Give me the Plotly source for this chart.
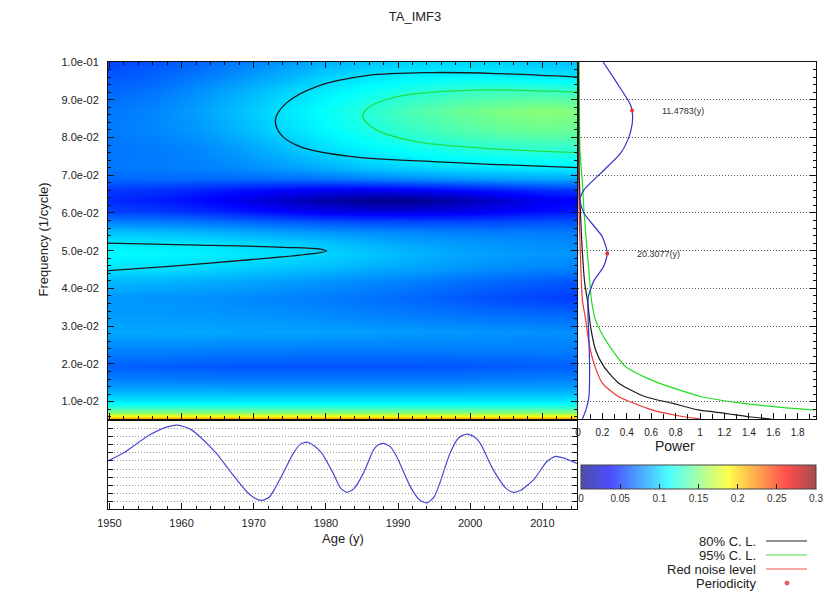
import plotly.graph_objects as go

# ---------------- data ----------------
title_text = "TA_IMF3"

# wavelet power grid (rows = frequency, cols = year)
grid_years = [1950, 1956, 1962, 1968, 1974, 1980, 1986, 1992, 1998, 2004, 2010, 2015]
grid_freqs = [0.0050, 0.0056, 0.0062, 0.0072, 0.0085, 0.0100, 0.0130, 0.0160, 0.0195,
              0.0240, 0.0285, 0.0330, 0.0375, 0.0420, 0.0455, 0.0490, 0.0520, 0.0550,
              0.0580, 0.0605, 0.0635, 0.0660, 0.0690, 0.0720, 0.0770, 0.0820, 0.0870,
              0.0920, 0.0965, 0.1000]
power_grid = [
    [0.240, 0.240, 0.240, 0.240, 0.240, 0.240, 0.240, 0.240, 0.240, 0.240, 0.240, 0.240],
    [0.210, 0.210, 0.210, 0.210, 0.210, 0.210, 0.210, 0.210, 0.210, 0.210, 0.210, 0.210],
    [0.185, 0.185, 0.185, 0.185, 0.185, 0.185, 0.185, 0.185, 0.185, 0.185, 0.185, 0.185],
    [0.150, 0.150, 0.150, 0.150, 0.150, 0.150, 0.150, 0.150, 0.150, 0.150, 0.150, 0.150],
    [0.125, 0.125, 0.125, 0.125, 0.125, 0.125, 0.125, 0.125, 0.125, 0.125, 0.125, 0.125],
    [0.108, 0.108, 0.108, 0.108, 0.108, 0.108, 0.108, 0.108, 0.108, 0.108, 0.108, 0.108],
    [0.088, 0.088, 0.088, 0.087, 0.087, 0.087, 0.087, 0.087, 0.087, 0.088, 0.088, 0.088],
    [0.075, 0.074, 0.073, 0.073, 0.073, 0.073, 0.073, 0.073, 0.073, 0.074, 0.075, 0.075],
    [0.066, 0.065, 0.064, 0.063, 0.062, 0.062, 0.062, 0.062, 0.063, 0.064, 0.065, 0.066],
    [0.077, 0.077, 0.076, 0.075, 0.075, 0.074, 0.074, 0.074, 0.074, 0.075, 0.075, 0.075],
    [0.087, 0.087, 0.087, 0.086, 0.086, 0.085, 0.084, 0.083, 0.082, 0.081, 0.080, 0.080],
    [0.083, 0.083, 0.082, 0.081, 0.080, 0.078, 0.076, 0.074, 0.072, 0.070, 0.069, 0.068],
    [0.082, 0.081, 0.080, 0.078, 0.076, 0.074, 0.071, 0.068, 0.064, 0.060, 0.057, 0.055],
    [0.092, 0.091, 0.089, 0.087, 0.084, 0.081, 0.078, 0.075, 0.071, 0.068, 0.065, 0.063],
    [0.105, 0.104, 0.102, 0.099, 0.096, 0.093, 0.089, 0.086, 0.082, 0.079, 0.077, 0.076],
    [0.112, 0.111, 0.109, 0.106, 0.103, 0.100, 0.096, 0.091, 0.087, 0.084, 0.082, 0.081],
    [0.107, 0.106, 0.105, 0.102, 0.099, 0.095, 0.090, 0.086, 0.083, 0.081, 0.079, 0.078],
    [0.094, 0.093, 0.091, 0.088, 0.085, 0.082, 0.079, 0.077, 0.075, 0.074, 0.074, 0.074],
    [0.074, 0.073, 0.071, 0.067, 0.063, 0.060, 0.058, 0.057, 0.057, 0.058, 0.060, 0.061],
    [0.056, 0.054, 0.050, 0.044, 0.037, 0.031, 0.027, 0.027, 0.030, 0.035, 0.040, 0.044],
    [0.050, 0.046, 0.040, 0.031, 0.021, 0.011, 0.004, 0.004, 0.012, 0.023, 0.033, 0.037],
    [0.054, 0.052, 0.048, 0.043, 0.038, 0.034, 0.033, 0.035, 0.040, 0.045, 0.050, 0.053],
    [0.068, 0.068, 0.068, 0.068, 0.069, 0.071, 0.074, 0.078, 0.081, 0.084, 0.086, 0.087],
    [0.073, 0.074, 0.075, 0.078, 0.083, 0.089, 0.096, 0.100, 0.103, 0.105, 0.107, 0.107],
    [0.072, 0.074, 0.077, 0.084, 0.093, 0.103, 0.110, 0.116, 0.121, 0.124, 0.126, 0.126],
    [0.074, 0.077, 0.082, 0.091, 0.102, 0.111, 0.120, 0.129, 0.136, 0.141, 0.144, 0.143],
    [0.073, 0.077, 0.084, 0.094, 0.105, 0.114, 0.125, 0.135, 0.143, 0.149, 0.153, 0.151],
    [0.068, 0.072, 0.080, 0.089, 0.099, 0.108, 0.116, 0.123, 0.128, 0.131, 0.131, 0.129],
    [0.062, 0.066, 0.072, 0.080, 0.089, 0.098, 0.104, 0.108, 0.109, 0.108, 0.105, 0.103],
    [0.058, 0.062, 0.067, 0.074, 0.082, 0.090, 0.096, 0.100, 0.101, 0.100, 0.097, 0.095],
]

# significance contours (year, frequency)
c80_upper_years = [2014.8, 2004.2, 1994.9, 1985.6, 1978.7, 1974.5, 1973.0, 1973.8, 1976.4, 1983.3, 1994.9, 2004.2, 2014.8]
c80_upper_freqs = [0.0960, 0.0969, 0.0972, 0.0964, 0.0935, 0.0891, 0.0847, 0.0807, 0.0776, 0.0750, 0.0736, 0.0728, 0.0720]
c95_years = [2014.8, 1999.4, 1990.1, 1985.8, 1985.1, 1987.0, 1992.5, 2001.8, 2014.8]
c95_freqs = [0.0920, 0.0925, 0.0909, 0.0878, 0.0856, 0.0820, 0.0789, 0.0772, 0.0760]
c80_lower_years = [1949.8, 1962.5, 1974.1, 1979.2, 1980.1, 1978.2, 1969.4, 1957.9, 1949.8]
c80_lower_freqs = [0.0520, 0.0515, 0.0509, 0.0504, 0.0499, 0.0492, 0.0476, 0.0458, 0.0447]

# reconstructed component time series
ts_years = [1949.8, 1952.0, 1953.2, 1955.6, 1957.9, 1959.5, 1961.2, 1962.5, 1964.8, 1967.1,
            1969.0, 1970.1, 1971.1, 1972.2, 1973.6, 1975.5, 1976.4, 1977.3, 1978.3, 1979.4,
            1981.0, 1982.0, 1982.9, 1983.9, 1985.2, 1986.6, 1987.2, 1988.0, 1988.9, 1989.8,
            1991.7, 1993.0, 1994.0, 1995.0, 1995.8, 1997.2, 1998.4, 1999.5, 2000.5, 2001.4,
            2003.2, 2005.0, 2006.0, 2007.0, 2008.8, 2010.6, 2011.8, 2013.0, 2014.8]
ts_values = [0.10, 0.30, 0.45, 0.74, 0.93, 0.98, 0.88, 0.70, 0.29, -0.24,
             -0.65, -0.81, -0.87, -0.78, -0.36, 0.29, 0.50, 0.56, 0.48, 0.30,
             -0.20, -0.56, -0.67, -0.58, -0.20, 0.37, 0.49, 0.53, 0.45, 0.21,
             -0.53, -0.86, -0.93, -0.78, -0.44, 0.29, 0.67, 0.76, 0.70, 0.53,
             -0.12, -0.58, -0.67, -0.62, -0.36, 0.08, 0.21, 0.17, 0.04]

# global wavelet power and confidence levels (frequency, power)
gws_freqs = [0.1000, 0.0944, 0.0890, 0.0872, 0.0834, 0.0795, 0.0758, 0.0705, 0.0661, 0.0635,
             0.0599, 0.0537, 0.0493, 0.0458, 0.0420, 0.0378, 0.0330, 0.0281, 0.0193, 0.0113,
             0.0078, 0.0054]
gws_power = [0.206, 0.320, 0.425, 0.443, 0.443, 0.410, 0.348, 0.185, 0.049, 0.016,
             0.049, 0.199, 0.240, 0.210, 0.130, 0.085, 0.082, 0.088, 0.095, 0.090,
             0.065, 0.036]
cl80_freqs = [0.1000, 0.0800, 0.0700, 0.0600, 0.0500, 0.0414, 0.0369, 0.0299, 0.0237, 0.0193,
              0.0149, 0.0113, 0.0096, 0.0078, 0.0069, 0.0060, 0.0054]
cl80_power = [0.004, 0.006, 0.010, 0.020, 0.035, 0.055, 0.077, 0.103, 0.144, 0.212,
              0.334, 0.552, 0.769, 0.986, 1.204, 1.394, 1.584]
cl95_freqs = [0.1000, 0.0850, 0.0767, 0.0679, 0.0600, 0.0546, 0.0480, 0.0414, 0.0369, 0.0316,
              0.0263, 0.0193, 0.0153, 0.0113, 0.0096, 0.0085, 0.0078]
cl95_power = [0.008, 0.012, 0.016, 0.036, 0.050, 0.063, 0.080, 0.098, 0.110, 0.144,
              0.226, 0.389, 0.633, 1.014, 1.340, 1.666, 1.940]
red_freqs = [0.1000, 0.0700, 0.0600, 0.0500, 0.0414, 0.0369, 0.0316, 0.0255, 0.0202, 0.0149,
             0.0113, 0.0078, 0.0064, 0.0054]
red_power = [0.002, 0.005, 0.010, 0.018, 0.028, 0.036, 0.063, 0.090, 0.130, 0.199,
             0.334, 0.606, 0.796, 1.000]

# detected periodicities
peak_periods = [11.4783, 20.3077]
peak_power = [0.443, 0.240]

# tick labels
freq_ticks = [0.01, 0.02, 0.03, 0.04, 0.05, 0.06, 0.07, 0.08, 0.09, 0.10]
freq_tick_text = ["1.0e-02", "2.0e-02", "3.0e-02", "4.0e-02", "5.0e-02",
                  "6.0e-02", "7.0e-02", "8.0e-02", "9.0e-02", "1.0e-01"]
year_ticks = [1950, 1960, 1970, 1980, 1990, 2000, 2010]
power_ticks = [0, 0.2, 0.4, 0.6, 0.8, 1.0, 1.2, 1.4, 1.6, 1.8]
power_tick_text = ["0", "0.2", "0.4", "0.6", "0.8", "1", "1.2", "1.4", "1.6", "1.8"]
cbar_ticks = [0, 0.05, 0.1, 0.15, 0.2, 0.25, 0.3]
cbar_tick_text = ["0", "0.05", "0.1", "0.15", "0.2", "0.25", "0.3"]
legend_labels = ["80% C. L.", "95% C. L.", "Red noise level", "Periodicity"]

# ---------------- styling ----------------
W, H = 830, 595
FONT = "Liberation Sans, Arial, sans-serif"


def px(x):
    return x / W


def py(y):
    return 1 - y / H


jet_rgb = [(0, (0, 0, 128)), (0.125, (0, 0, 255)), (0.375, (0, 255, 255)),
           (0.625, (255, 255, 0)), (0.875, (255, 0, 0)), (1, (128, 0, 0))]
jet = [[p, "rgb(%d,%d,%d)" % c] for p, c in jet_rgb]


def wash(rgb, a=0.7):
    return tuple(round(c * a + 255 * (1 - a)) for c in rgb)


jet_washed = [[p, "rgb(%d,%d,%d)" % wash(c)] for p, c in jet_rgb]

x_dom = [px(108), px(577)]
r_dom = [px(578), px(816)]
hm_dom = [py(419), py(62)]
ts_dom = [py(509), py(421)]
YR = [1949.8, 2014.8]
FR = [0.0054, 0.1]
DOT = "1px,2px"

fig = go.Figure()

fig.add_trace(go.Heatmap(
    x=grid_years, y=grid_freqs, z=power_grid, colorscale=jet, zmin=0, zmax=0.3,
    zsmooth="best", showscale=False, xaxis="x", yaxis="y", hoverinfo="skip"))

for xs, ys, col in [(c80_upper_years, c80_upper_freqs, "#1a1a1a"),
                    (c95_years, c95_freqs, "#22dd44"),
                    (c80_lower_years, c80_lower_freqs, "#1a1a1a")]:
    fig.add_trace(go.Scatter(x=xs, y=ys, mode="lines", line=dict(color=col, width=1.3, shape="spline"),
                             xaxis="x", yaxis="y", hoverinfo="skip"))

# colorbar carrier
fig.add_trace(go.Scatter(
    x=[2000] * len(cbar_ticks), y=[0.05] * len(cbar_ticks), mode="markers",
    marker=dict(size=1, opacity=0, color=cbar_ticks, cmin=0, cmax=0.3, colorscale=jet_washed,
                showscale=True,
                colorbar=dict(orientation="h", x=px(581), xanchor="left", y=py(510), yanchor="bottom",
                              len=235, lenmode="pixels", thickness=24, thicknessmode="pixels",
                              xpad=0, ypad=0, outlinecolor="#444", outlinewidth=1,
                              tickvals=cbar_ticks, ticktext=cbar_tick_text, ticks="inside",
                              ticklen=5, tickcolor="#222",
                              tickfont=dict(size=10, color="#333", family=FONT))),
    xaxis="x", yaxis="y", hoverinfo="skip"))

# time series
fig.add_trace(go.Scatter(x=ts_years, y=ts_values, mode="lines",
                         line=dict(color="#4a4ad0", width=1.2, shape="spline", smoothing=0.6),
                         xaxis="x2", yaxis="y2", hoverinfo="skip"))

# right panel
for xs, ys, col in [(red_power, red_freqs, "#ee3333"),
                    (cl95_power, cl95_freqs, "#22dd22"),
                    (cl80_power, cl80_freqs, "#1a1a1a"),
                    (gws_power, gws_freqs, "#3333cc")]:
    fig.add_trace(go.Scatter(x=xs, y=ys, mode="lines",
                             line=dict(color=col, width=1.2, shape="spline", smoothing=0.6),
                             xaxis="x3", yaxis="y3", hoverinfo="skip"))

peak_freqs = [1 / p for p in peak_periods]
fig.add_trace(go.Scatter(x=peak_power, y=peak_freqs, mode="markers",
                         marker=dict(color="#ee3333", size=4),
                         xaxis="x3", yaxis="y3", hoverinfo="skip"))
for p, f, pw in zip(peak_periods, peak_freqs, peak_power):
    fig.add_annotation(x=pw + 0.23, y=f, xref="x3", yref="y3", text="%.4f(y)" % p,
                       showarrow=False, xanchor="left", yanchor="middle",
                       font=dict(size=9, color="#333", family=FONT))

axis_common = dict(showline=True, linecolor="#111", linewidth=1, zeroline=False, automargin=False,
                   tickcolor="#111", tickfont=dict(size=11, color="#222", family=FONT))

fig.update_layout(
    template="none",
    width=W, height=H, margin=dict(l=0, r=0, t=0, b=0, autoexpand=False),
    paper_bgcolor="white", plot_bgcolor="white", showlegend=False,
    font=dict(family=FONT, color="#222"),
    title=dict(text=title_text, x=0.5, xanchor="center", y=py(16), yanchor="middle",
               font=dict(size=13, color="#222", family=FONT)),
    xaxis=dict(domain=x_dom, range=YR, anchor="y", showticklabels=False, ticks="inside",
               tick0=1950, dtick=10, ticklen=6, mirror="ticks", showgrid=False,
               minor=dict(ticks="inside", dtick=2, ticklen=3, tickcolor="#111"), **axis_common),
    yaxis=dict(domain=hm_dom, range=FR, anchor="x", tickvals=freq_ticks, ticktext=freq_tick_text,
               ticks="inside", ticklen=6, mirror="ticks", showgrid=False, ticklabelstandoff=6,
               minor=dict(ticks="inside", tick0=0, dtick=0.002, ticklen=3, tickcolor="#111"),
               **axis_common),
    xaxis2=dict(domain=x_dom, range=YR, anchor="y2", tickvals=year_ticks, ticks="inside",
                ticklen=6, mirror=True, showgrid=False, ticklabelstandoff=4,
                minor=dict(ticks="inside", tick0=1950, dtick=2, ticklen=3, tickcolor="#111"),
                **axis_common),
    yaxis2=dict(domain=ts_dom, range=[-1.08, 1.08], anchor="x2",
                tickvals=[-0.9, -0.7, -0.5, -0.3, -0.1, 0.1, 0.3, 0.5, 0.7, 0.9],
                showticklabels=False, ticks="inside", ticklen=5, mirror="ticks",
                showgrid=True, gridcolor="#999", griddash=DOT, gridwidth=1, **axis_common),
    xaxis3=dict(domain=r_dom, range=[0, 1.95], anchor="y3", tickvals=power_ticks,
                ticktext=power_tick_text, ticks="inside", ticklen=6, mirror=True, showgrid=False,
                ticklabelstandoff=4,
                minor=dict(ticks="inside", tick0=0, dtick=0.1, ticklen=5, tickcolor="#111"),
                **{**axis_common, "tickfont": dict(size=10, color="#222", family=FONT)}),
    yaxis3=dict(domain=hm_dom, range=FR, anchor="x3", side="right", tickvals=freq_ticks[:-1],
                showticklabels=False, ticks="inside", ticklen=6, mirror=True,
                showgrid=True, gridcolor="#555", griddash=DOT, gridwidth=1,
                minor=dict(ticks="inside", tick0=0, dtick=0.002, ticklen=3, tickcolor="#111"),
                **axis_common),
)

# axis titles
fig.add_annotation(x=px(33), y=py(240), xref="paper", yref="paper", text="Frequency (1/cycle)",
                   textangle=-90, showarrow=False, font=dict(size=13, color="#222", family=FONT))
fig.add_annotation(x=px(343), y=py(548), xref="paper", yref="paper", text="Age (y)",
                   showarrow=False, font=dict(size=13, color="#222", family=FONT))
fig.add_annotation(x=px(697), y=py(456), xref="paper", yref="paper", text="Power",
                   showarrow=False, font=dict(size=14, color="#222", family=FONT))

# legend (text on the left, sample on the right)
legend_y = [541, 555, 569, 583]
legend_cols = ["#222", "#44dd44", "#ee5555", "#ee5555"]
for lab, yy in zip(legend_labels, legend_y):
    fig.add_annotation(x=px(757), y=py(yy), xref="paper", yref="paper", text=lab,
                       showarrow=False, xanchor="right", yanchor="middle", borderpad=0,
                       font=dict(size=13, color="#222", family=FONT))
for yy, col in zip(legend_y[:3], legend_cols[:3]):
    fig.add_shape(type="line", xref="paper", yref="paper", x0=px(766), x1=px(807),
                  y0=py(yy), y1=py(yy), line=dict(color=col, width=1.2))
fig.add_shape(type="circle", xref="paper", yref="paper", x0=px(785), x1=px(789),
              y0=py(585), y1=py(581), line=dict(color="#ee5555", width=1), fillcolor="#ee5555")

fig.write_html("out.html", config={"displayModeBar": False},
               post_script="document.body.style.margin='0px';")
